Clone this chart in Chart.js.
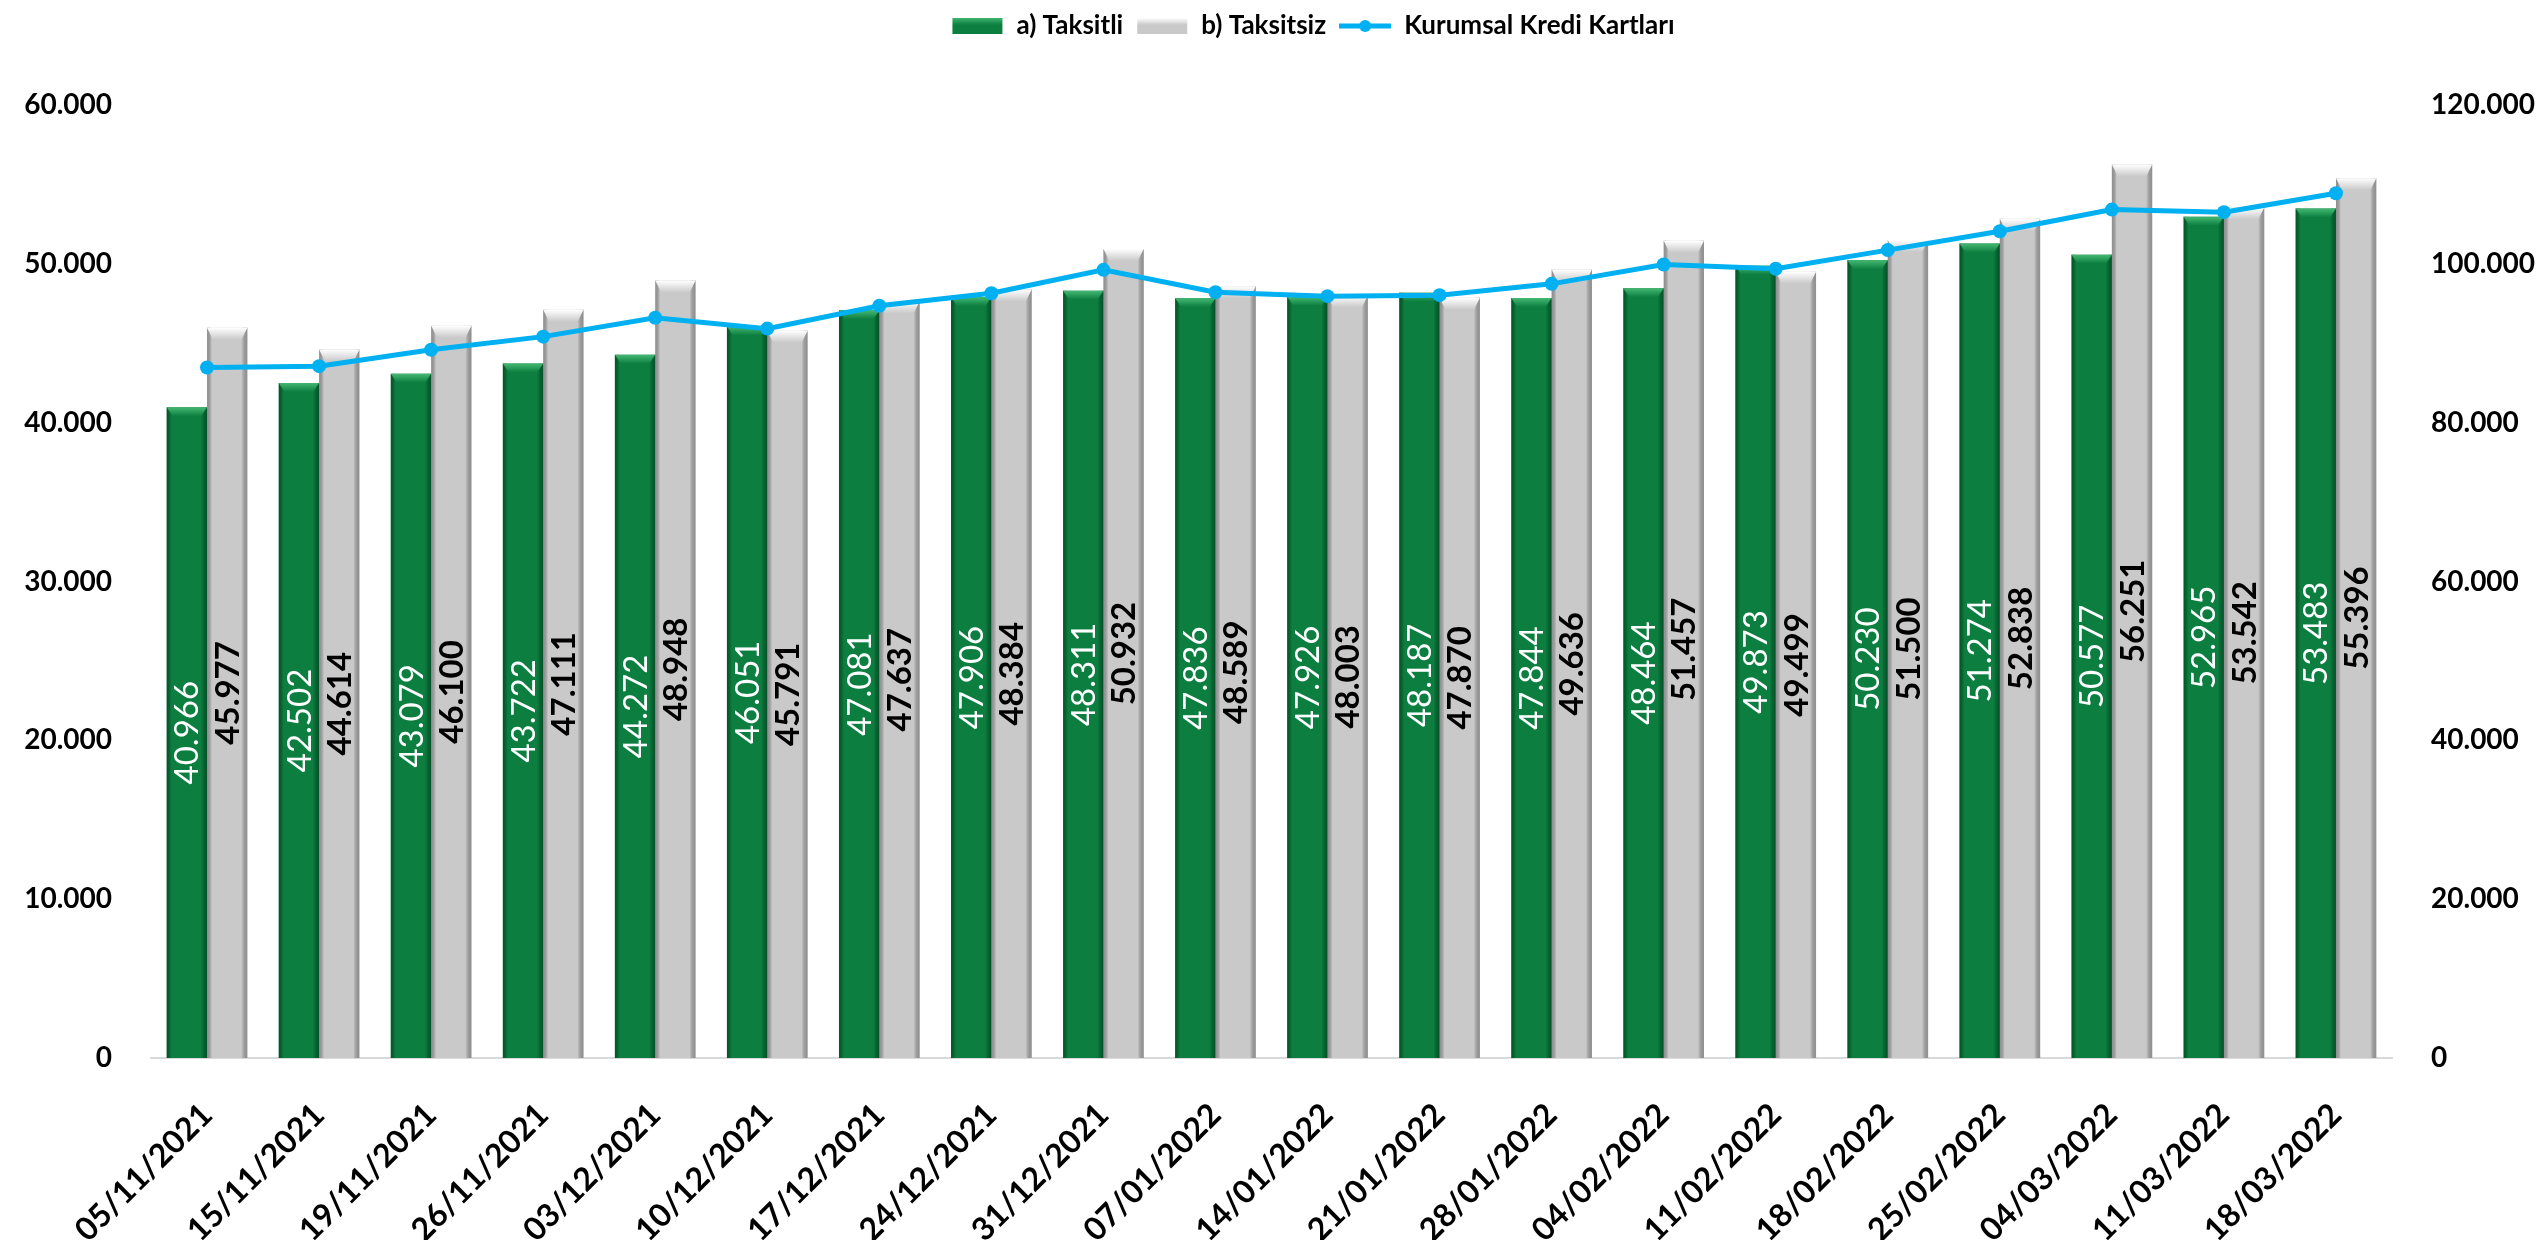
<!DOCTYPE html>
<html>
<head>
<meta charset="utf-8">
<script src="https://cdn.jsdelivr.net/npm/chart.js@4.4.1/dist/chart.umd.min.js"></script>
<style>
  html, body { margin: 0; padding: 0; background: #fff; }
  #wrap { width: 2536px; height: 1240px; }
</style>
</head>
<body>
<div id="wrap"><canvas id="chartBar" width="2536" height="1240"></canvas></div>
<script>
// data
var dates = ['05/11/2021', '15/11/2021', '19/11/2021', '26/11/2021', '03/12/2021', '10/12/2021', '17/12/2021',
  '24/12/2021', '31/12/2021', '07/01/2022', '14/01/2022', '21/01/2022', '28/01/2022', '04/02/2022',
  '11/02/2022', '18/02/2022', '25/02/2022', '04/03/2022', '11/03/2022', '18/03/2022'];
var taksitli = [40966, 42502, 43079, 43722, 44272, 46051, 47081, 47906, 48311, 47836,
  47926, 48187, 47844, 48464, 49873, 50230, 51274, 50577, 52965, 53483];
var taksitsiz = [45977, 44614, 46100, 47111, 48948, 45791, 47637, 48384, 50932, 48589,
  48003, 47870, 49636, 51457, 49499, 51500, 52838, 56251, 53542, 55396];
var kurumsalKredi = [86943, 87116, 89179, 90833, 93220, 91842, 94718, 96290, 99243, 96425,
  95929, 96057, 97480, 99921, 99372, 101730, 104112, 106828, 106507, 108879];
var leftTicks = [0, 10000, 20000, 30000, 40000, 50000, 60000];
var rightTicks = [0, 20000, 40000, 60000, 80000, 100000, 120000];

var FONT = 'Lato, "Open Sans", sans-serif';

function fmt(v) {
  return String(v).replace(/\B(?=(\d{3})+(?!\d))/g, '.');
}

// small legend swatches
function makeSwatch(kind) {
  var c = document.createElement('canvas');
  c.width = 52; c.height = 20;
  var x = c.getContext('2d');
  if (kind === 'line') {
    x.strokeStyle = '#00B0F0';
    x.lineWidth = 5;
    x.beginPath(); x.moveTo(0, 10); x.lineTo(52, 10); x.stroke();
    x.fillStyle = '#00B0F0';
    x.beginPath(); x.arc(26, 10, 6, 0, Math.PI * 2); x.fill();
    return c;
  }
  var base = kind === 'green' ? '#0B7E40' : '#C9C9C9';
  var light = kind === 'green' ? '#3FB46E' : '#FFFFFF';
  x.fillStyle = base;
  x.fillRect(1, 2, 50, 16);
  var g = x.createLinearGradient(0, 2, 0, 9);
  g.addColorStop(0, light);
  g.addColorStop(1, base);
  x.fillStyle = g;
  x.fillRect(1, 2, 50, 7);
  return c;
}

var swatches = [makeSwatch('green'), makeSwatch('gray'), makeSwatch('line')];

// bevel / shading on top of each bar, value labels
var barLook = {
  id: 'barLook',
  afterInit: function (chart) {
    var leg = chart.legend;
    var f = leg.fit;
    leg.fit = function () { f.call(this); this.height = 105; };
  },
  afterLayout: function (chart) {
    // legend sits a bit right of centre in the original
    chart.legend.left += 45;
    chart.legend.right += 45;
  },
  afterDatasetDraw: function (chart, args) {
    if (args.index > 1) return;
    var ctx = chart.ctx;
    var green = args.index === 0;
    var edge = green ? 'rgba(0,50,20,0.55)' : 'rgba(110,110,110,0.6)';
    var light = green ? '#44B872' : '#FFFFFF';
    var base = green ? '#0B7E40' : '#C9C9C9';
    args.meta.data.forEach(function (bar) {
      var l = bar.x - bar.width / 2, r = bar.x + bar.width / 2, t = bar.y, b = bar.base;
      ctx.save();
      var g = ctx.createLinearGradient(l, 0, r, 0);
      g.addColorStop(0, edge);
      g.addColorStop(0.12, 'rgba(0,0,0,0)');
      g.addColorStop(0.85, 'rgba(0,0,0,0)');
      g.addColorStop(1, edge);
      ctx.fillStyle = g;
      ctx.fillRect(l, t, r - l, b - t);
      var bh = green ? 9 : 12;
      var tg = ctx.createLinearGradient(0, t, 0, t + bh);
      tg.addColorStop(0, light);
      tg.addColorStop(1, base);
      ctx.fillStyle = tg;
      ctx.beginPath();
      ctx.moveTo(l, t);
      ctx.lineTo(r, t);
      ctx.lineTo(r - 6, t + bh);
      ctx.lineTo(l + 6, t + bh);
      ctx.closePath();
      ctx.fill();
      ctx.restore();
    });
  },
  afterDatasetsDraw: function (chart) {
    var ctx = chart.ctx;
    [0, 1].forEach(function (i) {
      var meta = chart.getDatasetMeta(i);
      var vals = chart.data.datasets[i].data;
      meta.data.forEach(function (bar, j) {
        ctx.save();
        ctx.translate(bar.x, (bar.y + bar.base) / 2);
        ctx.rotate(-Math.PI / 2);
        ctx.textAlign = 'center';
        ctx.textBaseline = 'middle';
        ctx.fillStyle = i === 0 ? '#FFFFFF' : '#000000';
        ctx.font = (i === 0 ? '' : 'bold ') + '33px ' + FONT;
        ctx.fillText(fmt(vals[j]), 0, 1);
        ctx.restore();
      });
    });
  }
};

var dataBar = {
  labels: dates,
  datasets: [
    {
      label: 'a) Taksitli',
      data: taksitli,
      backgroundColor: '#0B7E40',
      yAxisID: 'y',
      order: 1,
      categoryPercentage: 0.72,
      barPercentage: 1
    },
    {
      label: 'b) Taksitsiz',
      data: taksitsiz,
      backgroundColor: '#C9C9C9',
      yAxisID: 'y',
      order: 1,
      categoryPercentage: 0.72,
      barPercentage: 1
    },
    {
      type: 'line',
      label: 'Kurumsal Kredi Kartları',
      data: kurumsalKredi,
      borderColor: '#00B0F0',
      backgroundColor: '#00B0F0',
      borderWidth: 5,
      pointRadius: 7,
      pointBackgroundColor: '#00B0F0',
      pointBorderWidth: 0,
      tension: 0,
      yAxisID: 'y1',
      order: 0
    }
  ]
};

var configBar = {
  type: 'bar',
  data: dataBar,
  plugins: [barLook],
  options: {
    responsive: false,
    animation: false,
    devicePixelRatio: 1,
    layout: { padding: 0 },
    plugins: {
      tooltip: { enabled: false },
      legend: {
        position: 'top',
        labels: {
          font: { family: FONT, size: 26, weight: 'bold' },
          color: '#000',
          padding: 13,
          boxHeight: 20,
          usePointStyle: true,
          pointStyleWidth: 52,
          generateLabels: function (chart) {
            return chart.data.datasets.map(function (ds, i) {
              return {
                text: ds.label,
                pointStyle: swatches[i],
                fillStyle: 'transparent',
                strokeStyle: 'transparent',
                lineWidth: 0,
                fontColor: '#000',
                datasetIndex: i
              };
            });
          }
        }
      }
    },
    scales: {
      x: {
        grid: { display: false },
        border: { display: true, color: '#D9D9D9', width: 2 },
        ticks: {
          font: { family: FONT, size: 32, weight: 'bold' },
          color: '#000',
          maxRotation: 45,
          minRotation: 45,
          padding: 30,
          autoSkip: false
        },
        afterFit: function (scale) { scale.height = 182; }
      },
      y: {
        position: 'left',
        min: 0,
        max: 60000,
        grid: { display: false },
        border: { display: false },
        afterBuildTicks: function (scale) {
          scale.ticks = leftTicks.map(function (v) { return { value: v }; });
        },
        ticks: {
          font: { family: FONT, size: 28, weight: 'bold' },
          color: '#000',
          padding: 31,
          callback: function (v) { return fmt(v); }
        },
        afterFit: function (scale) { scale.width = 151; }
      },
      y1: {
        position: 'right',
        min: 0,
        max: 120000,
        grid: { display: false },
        border: { display: false },
        afterBuildTicks: function (scale) {
          scale.ticks = rightTicks.map(function (v) { return { value: v }; });
        },
        ticks: {
          font: { family: FONT, size: 28, weight: 'bold' },
          color: '#000',
          padding: 31,
          callback: function (v) { return fmt(v); }
        },
        afterFit: function (scale) { scale.width = 144; }
      }
    }
  }
};

var chartBar = new Chart(document.getElementById('chartBar'), configBar);
</script>
</body>
</html>
